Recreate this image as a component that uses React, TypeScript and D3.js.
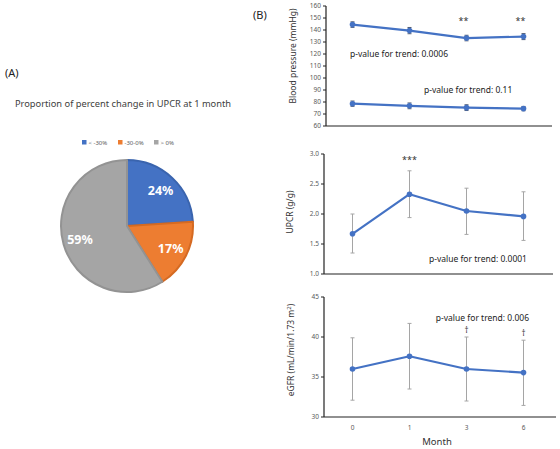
import React from 'react';
import * as d3 from 'd3';

// panel (A) pie
const pieCategories = ['< -30%', '-30-0%', '> 0%'];
const pieValues = [24, 17, 59];
const pieColors = ['#4472C4', '#ED7D31', '#A5A5A5'];
const pieBorders = ['#3A64AE', '#D56A22', '#939393'];

// panel (B) x categories
const months = ['0', '1', '3', '6'];

// blood pressure
const sbp = [144.5, 139.5, 133.3, 134.5];
const sbpErr = [2.3, 2.6, 2.3, 2.5];
const dbp = [78.6, 76.8, 75.3, 74.5];
const dbpErr = [2.2, 2.4, 2.4, 1.8];
const bpTicks = [60, 70, 80, 90, 100, 110, 120, 130, 140, 150, 160];
const bpMarks = ['', '', '**', '**'];

// UPCR
const upcr = [1.67, 2.33, 2.05, 1.96];
const upcrLow = [1.35, 1.94, 1.66, 1.56];
const upcrHigh = [2.0, 2.72, 2.43, 2.37];
const upcrTicks = [1.0, 1.5, 2.0, 2.5, 3.0];
const upcrMarks = ['', '***', '', ''];

// eGFR
const egfr = [36.0, 37.6, 36.0, 35.55];
const egfrLow = [32.1, 33.5, 32.0, 31.45];
const egfrHigh = [39.9, 41.7, 40.0, 39.6];
const egfrTicks = [30, 35, 40, 45];
const egfrMarks = ['', '', '†', '†'];

const FONT = '"Noto Sans", "Open Sans", sans-serif';
const LINE = '#4472C4';

const x = d3.scalePoint<string>().domain(months).range([324, 552]).padding(0.5);

function YAxis({ scale, ticks, x0, fmt }: { scale: d3.ScaleLinear<number, number>; ticks: number[]; x0: number; fmt: (v: number) => string }) {
  const [lo, hi] = scale.range();
  return (
    <g>
      <line x1={x0} x2={x0} y1={hi} y2={lo} stroke="#222" strokeWidth={1.2} />
      {ticks.map(t => (
        <g key={t}>
          <line x1={x0 - 3} x2={x0} y1={scale(t)} y2={scale(t)} stroke="#222" strokeWidth={1} />
          <text x={x0 - 5} y={scale(t)} dy="0.35em" textAnchor="end" fontSize={6.5} fill="#595959" fontFamily={FONT}>{fmt(t)}</text>
        </g>
      ))}
    </g>
  );
}

function Series({ values, low, high, scale, barColor, cap }: { values: number[]; low: number[]; high: number[]; scale: d3.ScaleLinear<number, number>; barColor: string; cap: number }) {
  const line = d3.line<number>().x((_, i) => x(months[i])!).y(v => scale(v));
  return (
    <g>
      {values.map((v, i) => {
        const cx = x(months[i])!;
        return (
          <g key={'e' + i}>
            <line x1={cx} x2={cx} y1={scale(low[i])} y2={scale(high[i])} stroke={barColor} strokeWidth={1} />
            <line x1={cx - cap} x2={cx + cap} y1={scale(low[i])} y2={scale(low[i])} stroke={barColor} strokeWidth={1} />
            <line x1={cx - cap} x2={cx + cap} y1={scale(high[i])} y2={scale(high[i])} stroke={barColor} strokeWidth={1} />
          </g>
        );
      })}
      <path d={line(values) || ''} fill="none" stroke={LINE} strokeWidth={2.2} strokeLinejoin="round" />
      {values.map((v, i) => (
        <circle key={'c' + i} cx={x(months[i])!} cy={scale(v)} r={2.8} fill={LINE} />
      ))}
    </g>
  );
}

export default function App() {
  const cx = 127, cy = 226, r = 66;
  const pie = d3.pie<number>().sort(null)(pieValues);
  const arc = d3.arc<d3.PieArcDatum<number>>().innerRadius(0).outerRadius(r);
  const labelArc = d3.arc<d3.PieArcDatum<number>>().innerRadius(49).outerRadius(49);

  const yBp = d3.scaleLinear().domain([60, 160]).range([126, 6]);
  const yUp = d3.scaleLinear().domain([1, 3]).range([274, 154]);
  const yEg = d3.scaleLinear().domain([30, 45]).range([417, 297]);

  const legendX = [82, 118, 154];

  return (
    <svg width={560} height={449} style={{ position: 'absolute', left: 0, top: 0, background: '#fff' }} fontFamily={FONT}>
      {/* panel A */}
      <text x={5} y={77} fontSize={11} fill="#222">(A)</text>
      <text x={123} y={107} textAnchor="middle" fontSize={9.3} fill="#404040">Proportion of percent change in UPCR at 1 month</text>
      {pieCategories.map((c, i) => (
        <g key={c}>
          <rect x={legendX[i]} y={140} width={4.5} height={4.5} fill={pieColors[i]} />
          <text x={legendX[i] + 6.5} y={142.5} dy="0.35em" fontSize={6} fill="#595959">{c}</text>
        </g>
      ))}
      <g transform={`translate(${cx},${cy})`}>
        {pie.map((d, i) => (
          <path key={i} d={arc(d) || ''} fill={pieColors[i]} stroke={pieBorders[i]} strokeWidth={2} strokeLinejoin="round" />
        ))}
        {pie.map((d, i) => {
          const [lx, ly] = labelArc.centroid(d);
          return (
            <text key={'l' + i} x={lx} y={ly} dy="0.35em" textAnchor="middle" fontSize={12.5} fontWeight="bold" fill="#fff">{pieValues[i]}%</text>
          );
        })}
      </g>

      {/* panel B */}
      <text x={253} y={19} fontSize={11} fill="#222">(B)</text>

      {/* blood pressure */}
      <YAxis scale={yBp} ticks={bpTicks} x0={326} fmt={d3.format('d')} />
      <line x1={326} x2={552} y1={126} y2={126} stroke="#222" strokeWidth={1.2} />
      <text transform="translate(293,56) rotate(-90)" textAnchor="middle" dy="0.35em" fontSize={8.5} fill="#333">Blood pressure (mmHg)</text>
      <Series values={sbp} low={sbp.map((v, i) => v - sbpErr[i])} high={sbp.map((v, i) => v + sbpErr[i])} scale={yBp} barColor="#505a6e" cap={2} />
      <Series values={dbp} low={dbp.map((v, i) => v - dbpErr[i])} high={dbp.map((v, i) => v + dbpErr[i])} scale={yBp} barColor="#505a6e" cap={2} />
      {bpMarks.map((m, i) => m && (
        <text key={'bm' + i} x={x(months[i])! - 3} y={24} textAnchor="middle" fontSize={9} fill="#333">{m}</text>
      ))}
      <text x={350} y={54} dy="0.35em" fontSize={8.5} fill="#222">p-value for trend: 0.0006</text>
      <text x={424} y={90} dy="0.35em" fontSize={8.5} fill="#222">p-value for trend: 0.11</text>

      {/* UPCR */}
      <YAxis scale={yUp} ticks={upcrTicks} x0={324} fmt={d3.format('.1f')} />
      <line x1={324} x2={553} y1={274} y2={274} stroke="#222" strokeWidth={1.2} />
      <text transform="translate(290,212) rotate(-90)" textAnchor="middle" dy="0.35em" fontSize={8.5} fill="#333">UPCR (g/g)</text>
      <Series values={upcr} low={upcrLow} high={upcrHigh} scale={yUp} barColor="#A5A5A5" cap={2} />
      {upcrMarks.map((m, i) => m && (
        <text key={'um' + i} x={x(months[i])!} y={163} textAnchor="middle" fontSize={9} fill="#333">{m}</text>
      ))}
      <text x={527} y={259} dy="0.35em" textAnchor="end" fontSize={8.5} fill="#222">p-value for trend: 0.0001</text>

      {/* eGFR */}
      <YAxis scale={yEg} ticks={egfrTicks} x0={324} fmt={d3.format('d')} />
      <line x1={324} x2={556} y1={417} y2={417} stroke="#222" strokeWidth={1.2} />
      {months.map(m => (
        <text key={'xt' + m} x={x(m)!} y={428} dy="0.35em" textAnchor="middle" fontSize={6.5} fill="#595959">{m}</text>
      ))}
      <text x={437} y={442} dy="0.35em" textAnchor="middle" fontSize={9.5} fill="#333">Month</text>
      <text transform="translate(291,350) rotate(-90)" textAnchor="middle" dy="0.35em" fontSize={8.5} fill="#333">
        eGFR (mL/min/1.73 m<tspan dy="-3" fontSize={6}>2</tspan><tspan dy="3">)</tspan>
      </text>
      <Series values={egfr} low={egfrLow} high={egfrHigh} scale={yEg} barColor="#A5A5A5" cap={2} />
      {egfrMarks.map((m, i) => m && (
        <text key={'em' + i} x={x(months[i])!} y={egfrHigh[i]} dy={0} fontSize={8} fill="#333" textAnchor="middle"
          transform={`translate(0,${yEg(egfrHigh[i]) - 4 - egfrHigh[i]})`}>{m}</text>
      ))}
      <text x={529} y={318} dy="0.35em" textAnchor="end" fontSize={8.5} fill="#222">p-value for trend: 0.006</text>
    </svg>
  );
}
